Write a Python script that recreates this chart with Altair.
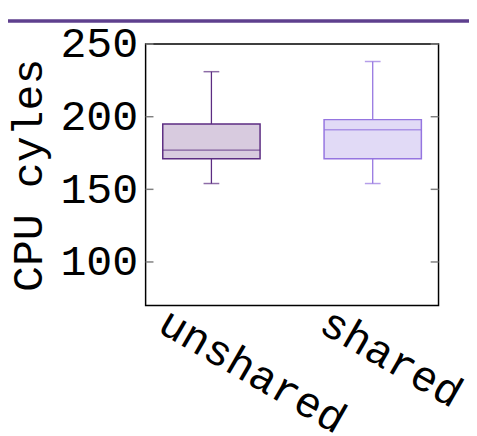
import altair as alt
import pandas as pd

# ---- data ----
groups = ["unshared", "shared"]
lower = [154, 154]
q1 = [171, 171]
median = [177, 191]
q3 = [195, 198]
upper = [231, 238]
stroke_colors = ["#5c2d82", "#9575e0"]
fill_colors = ["#d8cbdf", "#e1daf6"]
y_tick_values = [100, 150, 200, 250]

df = pd.DataFrame(dict(group=groups, lower=lower, q1=q1, median=median, q3=q3, upper=upper))
ticks_df = pd.DataFrame({"v": y_tick_values})
deco_df = pd.DataFrame({"a": [0]})

FONT = "Liberation Mono"
FS = 44

x = alt.X(
    "group:N",
    sort=groups,
    scale=alt.Scale(paddingInner=0.4, paddingOuter=0.108),
    axis=alt.Axis(
        title=None, labelAngle=30, labelAlign="left", labelBaseline="middle",
        labelOffset=-50, labelPadding=14, ticks=False, domain=False, labelLimit=0,
        labelFont=FONT, labelFontSize=FS, labelColor="black", grid=False,
    ),
)
yscale = alt.Scale(domain=[70, 250], nice=False, zero=False)
yaxis = alt.Axis(
    title="CPU cyles", values=y_tick_values, ticks=False, domain=False, grid=False,
    labelFont=FONT, labelFontSize=FS, labelColor="black", labelPadding=8,
    labelFontWeight="normal", labelLimit=0,
    titleFont=FONT, titleFontSize=FS, titleFontWeight="normal", titleColor="black",
    titleAngle=-90, titleBaseline="alphabetic", titleAlign="center",
    titleX=-106, titleY=133,
)
color = alt.Color("group:N", scale=alt.Scale(domain=groups, range=stroke_colors), legend=None)
fill = alt.Fill("group:N", scale=alt.Scale(domain=groups, range=fill_colors), legend=None)


def Y(field):
    return alt.Y(field, scale=yscale, axis=yaxis)


base = alt.Chart(df)

whisker = base.mark_rule(strokeWidth=1.3).encode(
    x=x, y=Y("lower:Q"), y2="upper:Q", color=color
)
box = base.mark_bar(size=99, strokeWidth=1.5).encode(
    x=x, y=Y("q1:Q"), y2="q3:Q", fill=fill, stroke=color
)
med = base.mark_tick(size=99, thickness=1.5).encode(x=x, y=Y("median:Q"), color=color)
cap_lo = base.mark_tick(size=16, thickness=1.5).encode(x=x, y=Y("lower:Q"), color=color)
cap_hi = base.mark_tick(size=16, thickness=1.5).encode(x=x, y=Y("upper:Q"), color=color)

tick_l = alt.Chart(ticks_df).mark_rule(color="#808080", strokeWidth=1.5).encode(
    y=Y("v:Q"), x=alt.value(0), x2=alt.value(8)
)
tick_r = alt.Chart(ticks_df).mark_rule(color="#808080", strokeWidth=1.5).encode(
    y=Y("v:Q"), x=alt.value(290), x2=alt.value(298)
)
top_line = alt.Chart(deco_df).mark_rule(color="#5e3f8e", strokeWidth=3.5).encode(
    x=alt.value(-140), x2=alt.value(329), y=alt.value(-23.5)
)

chart = (
    alt.layer(whisker, box, med, cap_lo, cap_hi, tick_l, tick_r, top_line)
    .properties(
        width=298, height=266,
        autosize=alt.AutoSizeParams(type="none"),
        padding={"left": 140, "top": 33, "right": 31, "bottom": 128},
    )
    .configure_view(stroke="black", strokeWidth=1.5)
)

chart.save("out.html", embed_options={"renderer": "svg", "actions": False})
